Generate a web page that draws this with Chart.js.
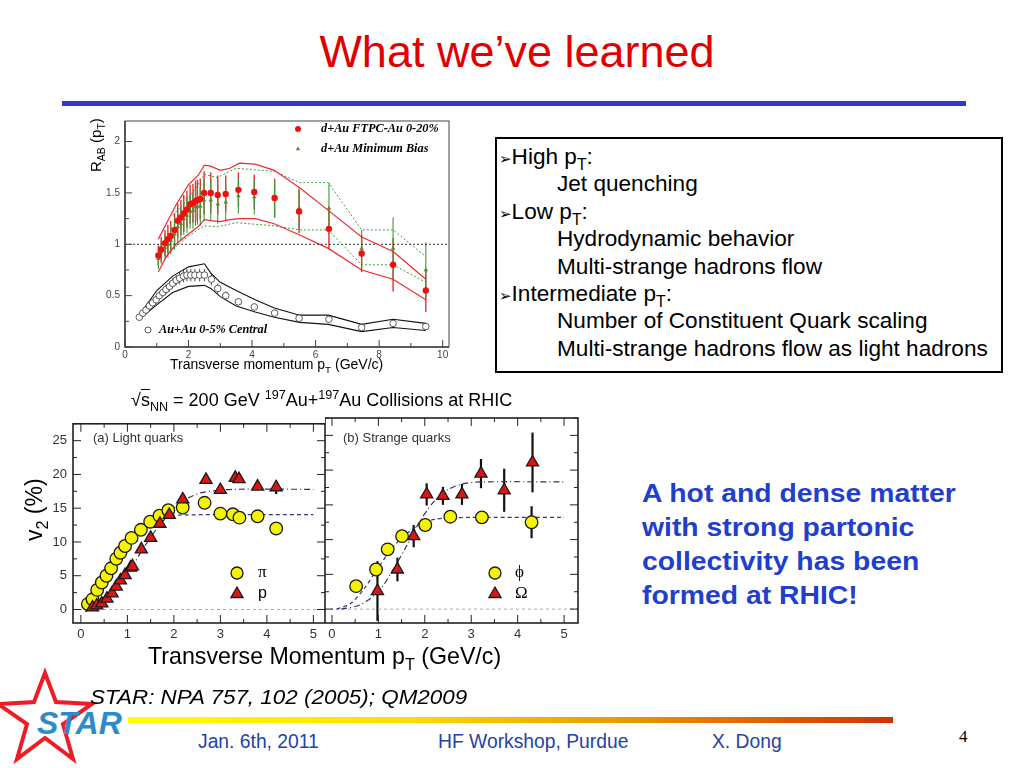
<!DOCTYPE html>
<html>
<head>
<meta charset="utf-8">
<title>What we've learned</title>
<script src="https://cdn.jsdelivr.net/npm/chart.js@4.4.1/dist/chart.umd.min.js"></script>
<style>
body { margin:0; background:#fff; }
#slide { position:relative; width:1024px; height:768px; overflow:hidden; font-family:"Liberation Sans", Arial, sans-serif; color:#000; }
.abs { position:absolute; white-space:nowrap; }
canvas { position:absolute; }
sub, sup { font-size:70%; line-height:0; }
#title { left:0; width:1034px; top:30px; text-align:center; font-size:45px; line-height:44px; color:#e00000; }
#rule { left:62px; top:101px; width:904px; height:5px; background:#3636c8; }
#box { left:495px; top:137px; width:504px; height:228px; border:2px solid #000; font-size:22.6px; padding-top:4px; box-sizing:content-box; }
#box div { white-space:nowrap; height:27.4px; line-height:27.4px; overflow:visible; }
#box .b { padding-left:2px; }
#box .b span.ar { font-family:"DejaVu Sans"; font-size:15px; line-height:0; }
#box .s { padding-left:60px; }
#msg { left:642px; top:476px; font-size:26px; line-height:34px; font-weight:bold; color:#1f3fcc; transform:scaleX(1.09); transform-origin:0 0; }
#ref { left:90px; top:686px; font-size:19.5px; font-style:italic; transform:scaleX(1.15); transform-origin:0 0; }
#bar { left:128px; top:717px; width:765px; height:6px; background:linear-gradient(to right, #ffff00 0%, #ffe000 35%, #e89000 68%, #cc3300 100%); }
.foot { top:731px; font-size:19.3px; color:#2442a8; }
#pg { left:959px; top:727px; font-family:"Liberation Serif", serif; font-size:17px; }
</style>
</head>
<body>
<div id="slide">
  <div id="title" class="abs">What we’ve learned</div>
  <div id="rule" class="abs"></div>

  <canvas id="rab" width="375" height="262" style="left:80px;top:110px"></canvas>
  <div class="abs" style="left:87px;top:172px;font-size:15px;transform:rotate(-90deg);transform-origin:0 0;">R<sub>AB</sub> (p<sub>T</sub>)</div>
  <div class="abs" style="left:170px;top:356px;font-size:14px;">Transverse momentum p<sub>T</sub> (GeV/c)</div>

  <div id="box" class="abs">
    <div class="b"><span class="ar">➢</span>High p<sub>T</sub>:</div>
    <div class="s">Jet quenching</div>
    <div class="b"><span class="ar">➢</span>Low p<sub>T</sub>:</div>
    <div class="s">Hydrodynamic behavior</div>
    <div class="s">Multi-strange hadrons flow</div>
    <div class="b"><span class="ar">➢</span>Intermediate p<sub>T</sub>:</div>
    <div class="s">Number of Constituent Quark scaling</div>
    <div class="s">Multi-strange hadrons flow as light hadrons</div>
  </div>

  <div class="abs" style="left:131px;top:390px;font-size:18px;">√<span style="text-decoration:overline">s</span><sub>NN</sub> = 200 GeV <sup>197</sup>Au+<sup>197</sup>Au Collisions at RHIC</div>
  <canvas id="v2a" width="285" height="235" style="left:40px;top:410px"></canvas>
  <canvas id="v2b" width="255" height="235" style="left:325px;top:410px"></canvas>
  <div class="abs" style="left:21px;top:541px;font-size:23px;transform:rotate(-90deg);transform-origin:0 0;">v<sub>2</sub> (%)</div>
  <div class="abs" style="left:148px;top:643px;font-size:23.2px;">Transverse Momentum p<sub>T</sub> (GeV/c)</div>

  <div id="msg" class="abs">A hot and dense matter<br>with strong partonic<br>collectivity has been<br>formed at RHIC!</div>

  <svg class="abs" style="left:0;top:660px" width="135" height="108">
    <polygon points="45,13 56,42 92,44 63,64 73,99 45,78 17,99 27,64 -2,44 34,42" fill="none" stroke="#ee1c24" stroke-width="4"/>
    <text x="37" y="74" font-family="Liberation Sans, Arial" font-weight="bold" font-style="italic" font-size="32" fill="#2e8bc9">STAR</text>
  </svg>
  <div id="ref" class="abs">STAR: NPA 757, 102 (2005); QM2009</div>
  <div id="bar" class="abs"></div>
  <div class="abs foot" style="left:198px;">Jan. 6th, 2011</div>
  <div class="abs foot" style="left:438px;">HF Workshop, Purdue</div>
  <div class="abs foot" style="left:712px;">X. Dong</div>
  <div id="pg" class="abs">4</div>
</div>

<script>
// ---- R_AB(pT) panel ----
var rabTicksX = [0, 2, 4, 6, 8, 10];
var rabTicksY = [0, 0.5, 1, 1.5, 2];

var dauX = [1.05,1.14,1.26,1.35,1.44,1.56,1.66,1.76,1.85,1.95,2.05,2.14,2.22,2.28,2.37,2.49,2.70,2.92,3.17,3.57,4.07,4.71,5.48,6.42,7.45,8.44,9.47];
var dauCentral = [0.89,0.95,1.01,1.05,1.08,1.14,1.23,1.26,1.30,1.34,1.39,1.40,1.42,1.43,1.44,1.50,1.50,1.48,1.49,1.53,1.51,1.45,1.32,1.15,0.91,0.80,0.55];
var dauCentralErr = [0.10,0.12,0.13,0.14,0.15,0.16,0.17,0.17,0.18,0.18,0.19,0.19,0.20,0.20,0.20,0.21,0.20,0.19,0.18,0.17,0.17,0.19,0.21,0.20,0.18,0.26,0.21];
var dauMinBias = [0.86,0.92,0.97,1.00,1.04,1.10,1.17,1.20,1.25,1.28,1.32,1.33,1.36,1.37,1.37,1.43,1.43,1.39,1.41,1.47,1.46,1.44,1.35,1.35,0.96,0.96,0.75];
var dauMinBiasErr = [0.10,0.11,0.12,0.13,0.14,0.15,0.15,0.16,0.16,0.17,0.17,0.18,0.18,0.18,0.19,0.20,0.20,0.19,0.18,0.17,0.17,0.18,0.20,0.25,0.18,0.30,0.27];

var centBandX = [1.05,1.3,1.6,2.0,2.3,2.5,2.7,3.0,3.3,3.6,4.1,4.7,5.5,6.4,7.45,8.44,9.47];
var centBandHi = [1.05,1.20,1.38,1.58,1.67,1.77,1.76,1.72,1.74,1.79,1.78,1.72,1.55,1.33,1.07,0.93,0.66];
var centBandLo = [0.73,0.88,1.00,1.10,1.17,1.24,1.23,1.22,1.24,1.25,1.25,1.20,1.09,0.96,0.75,0.66,0.46];

var mbBandX = [1.5,2.0,2.3,2.5,2.9,3.5,4.7,5.5,6.4,7.45,8.44,9.47];
var mbBandHi = [1.28,1.45,1.58,1.68,1.65,1.74,1.71,1.60,1.60,1.14,1.14,0.88];
var mbBandLo = [0.95,1.08,1.14,1.18,1.17,1.21,1.18,1.14,1.14,0.80,0.80,0.63];

var auX = [0.45,0.56,0.66,0.77,0.87,0.98,1.08,1.19,1.29,1.40,1.50,1.61,1.72,1.84,1.95,2.07,2.20,2.35,2.50,2.72,2.92,3.17,3.57,4.07,4.71,5.48,6.42,7.45,8.44,9.47];
var auCentral = [0.29,0.33,0.36,0.40,0.43,0.46,0.50,0.53,0.56,0.59,0.62,0.65,0.67,0.69,0.70,0.70,0.70,0.70,0.70,0.66,0.57,0.50,0.44,0.39,0.33,0.28,0.27,0.19,0.23,0.20];
var auCentralErr = [0.02,0.02,0.03,0.03,0.03,0.04,0.04,0.04,0.05,0.05,0.05,0.05,0.06,0.06,0.06,0.06,0.06,0.06,0.06,0.06,0.05,0.04,0.03,0.03,0.02,0.02,0.02,0.02,0.03,0.03];

var auBandX = [0.45,1.0,1.5,2.0,2.5,2.7,3.0,3.5,4.1,4.7,5.5,6.4,7.45,8.44,9.47];
var auBandHi = [0.31,0.55,0.69,0.78,0.81,0.72,0.63,0.55,0.46,0.38,0.31,0.31,0.22,0.27,0.23];
var auBandLo = [0.27,0.41,0.53,0.59,0.60,0.57,0.49,0.40,0.34,0.29,0.24,0.22,0.15,0.19,0.16];

var unityX = [0, 10.2];
var unityY = [1, 1];

// ---- v2 panels ----
var v2TicksX = [0, 1, 2, 3, 4, 5];
var v2TicksY = [0, 5, 10, 15, 20, 25];

var piX = [0.15,0.25,0.35,0.45,0.55,0.65,0.76,0.85,0.95,1.09,1.29,1.49,1.69,1.88,2.19,2.66,3.00,3.27,3.41,3.80,4.20];
var piV2 = [0.8,1.5,2.9,4.0,5.0,6.1,7.5,8.4,9.4,10.6,11.8,13.0,13.9,14.7,15.1,15.8,14.2,14.1,13.6,13.8,12.0];
var piErr = [0.1,0.1,0.1,0.1,0.1,0.1,0.1,0.1,0.1,0.1,0.1,0.1,0.2,0.2,0.2,0.3,0.3,0.3,0.3,0.4,0.8];
var protX = [0.25,0.34,0.45,0.56,0.67,0.76,0.85,0.95,1.07,1.11,1.30,1.50,1.70,1.90,2.19,2.69,3.00,3.32,3.40,3.80,4.20];
var protV2 = [0.3,0.6,0.9,1.6,2.4,3.4,4.3,5.1,6.2,6.4,8.9,10.6,12.7,14.0,16.3,19.2,17.7,19.5,19.3,18.2,18.1];
var protErr = [0.1,0.1,0.1,0.1,0.1,0.1,0.1,0.2,0.2,0.2,0.2,0.2,0.2,0.3,0.3,0.4,0.4,0.4,0.4,0.5,1.0];

var piFitX = [0.1,0.3,0.5,0.7,0.9,1.1,1.3,1.5,1.7,1.9,2.2,3.0,5.0];
var piFitY = [-0.3,1.8,4.2,6.5,8.7,10.5,12.0,13.0,13.6,13.9,14.0,14.05,14.05];
var protFitX = [0.1,0.3,0.5,0.7,0.9,1.1,1.3,1.5,1.7,1.9,2.1,2.3,2.6,2.9,3.3,5.0];
var protFitY = [-0.3,0.2,1.0,2.5,4.3,6.3,8.6,10.7,12.6,14.3,15.6,16.5,17.3,17.6,17.8,17.8];

var phiX = [0.52,0.95,1.20,1.51,2.01,2.55,3.23,4.30];
var phiV2 = [3.3,5.7,8.6,10.5,12.1,13.3,13.2,12.5];
var phiErr = [0.3,0.4,0.3,0.4,0.5,0.5,0.8,2.3];
var omegaX = [0.98,1.41,1.76,2.04,2.39,2.80,3.21,3.71,4.32];
var omegaV2 = [2.6,5.7,10.5,16.5,16.3,16.5,19.5,17.1,21.1];
var omegaErr = [4.3,1.7,1.6,1.6,1.3,1.5,2.1,3.1,4.3];

var phiFitX = [0.1,0.4,0.7,1.0,1.3,1.6,1.9,2.2,2.5,3.0,5.0];
var phiFitY = [0.0,0.8,3.0,6.0,8.8,10.8,12.2,12.9,13.1,13.2,13.2];
var omegaFitX = [0.2,0.6,1.0,1.3,1.6,1.9,2.2,2.5,2.8,3.2,5.0];
var omegaFitY = [0.0,0.6,2.5,5.5,9.0,12.7,15.5,17.2,18.0,18.3,18.3];

var zeroX = [-0.3, 5.4];
var zeroY = [0, 0];

Chart.defaults.font.family = '"Liberation Sans", Arial, sans-serif';

function pts(xs, ys) {
  return xs.map(function(x, i) { return {x: x, y: ys[i]}; });
}

// inward ticks and box frame, ROOT style
var framePlugin = {
  id: 'frame',
  afterDraw: function(chart, args, o) {
    var ctx = chart.ctx, a = chart.chartArea;
    var xs = chart.scales.x, ys = chart.scales.y;
    ctx.save();
    ctx.strokeStyle = o.color;
    ctx.lineWidth = o.width;
    ctx.strokeRect(a.left, a.top, a.right - a.left, a.bottom - a.top);
    ctx.lineWidth = o.tickWidth;
    function marks(major, scale, fn) {
      var step = major[1] - major[0];
      for (var v = major[0] - step; v <= scale.max + 1e-9; v += step / 2) {
        if (v < scale.min - 1e-9) continue;
        var isMajor = Math.abs(Math.round((v - major[0]) / step) * step - (v - major[0])) < 1e-6;
        fn(scale.getPixelForValue(v), isMajor ? o.major : o.minor);
      }
    }
    ctx.beginPath();
    marks(o.xMajor, xs, function(p, len) {
      if (o.sides.bottom) { ctx.moveTo(p, a.bottom); ctx.lineTo(p, a.bottom - len); }
      if (o.sides.top) { ctx.moveTo(p, a.top); ctx.lineTo(p, a.top + len); }
    });
    marks(o.yMajor, ys, function(p, len) {
      if (o.sides.left) { ctx.moveTo(a.left, p); ctx.lineTo(a.left + len, p); }
      if (o.sides.right) { ctx.moveTo(a.right, p); ctx.lineTo(a.right - len, p); }
    });
    ctx.stroke();
    if (o.axisWidth) {
      ctx.lineWidth = o.axisWidth;
      ctx.beginPath();
      ctx.moveTo(a.left, a.top); ctx.lineTo(a.left, a.bottom); ctx.lineTo(a.right, a.bottom);
      ctx.stroke();
    }
    ctx.restore();
  }
};

// vertical error bars read from dataset.errorBars
var errorPlugin = {
  id: 'errbars',
  beforeDatasetsDraw: function(chart) {
    var ctx = chart.ctx, xs = chart.scales.x, ys = chart.scales.y, a = chart.chartArea;
    ctx.save();
    ctx.beginPath();
    ctx.rect(a.left, a.top, a.right - a.left, a.bottom - a.top);
    ctx.clip();
    chart.data.datasets.forEach(function(ds) {
      if (!ds.errorBars) return;
      ctx.strokeStyle = ds.errorColor;
      ctx.lineWidth = ds.errorWidth;
      ds.data.forEach(function(p, j) {
        var e = ds.errorBars[j];
        if (!e) return;
        var x = xs.getPixelForValue(p.x);
        ctx.beginPath();
        ctx.moveTo(x, ys.getPixelForValue(p.y - e));
        ctx.lineTo(x, ys.getPixelForValue(p.y + e));
        ctx.stroke();
      });
    });
    ctx.restore();
  }
};

// in-frame keys (marker + label)
var keyPlugin = {
  id: 'keys',
  afterDraw: function(chart, args, o) {
    var ctx = chart.ctx;
    (o.items || []).forEach(function(it) {
      ctx.save();
      if (it.style) {
        ctx.fillStyle = it.fill;
        ctx.strokeStyle = it.stroke;
        ctx.lineWidth = it.borderWidth;
        Chart.helpers.drawPoint(ctx, {pointStyle: it.style, radius: it.radius, borderWidth: it.borderWidth, rotation: 0}, it.x, it.y);
      }
      ctx.font = it.font;
      ctx.fillStyle = it.color || '#000';
      ctx.textBaseline = 'middle';
      ctx.fillText(it.text, it.tx, it.y);
      ctx.restore();
    });
  }
};

function fixedTicks(list) {
  return function(s) { s.ticks = list.map(function(v) { return {value: v}; }); };
}
function plainLabel(v) { return String(v); }
// fixed axis band height, no extra side padding for edge labels
function xBand(h) {
  return function(s) { s.height = h; s.paddingLeft = 0; s.paddingRight = 0; };
}

var keyFont = 'bold italic 12.3px "Liberation Serif"';

// R_AB chart
new Chart(document.getElementById('rab'), {
  type: 'scatter',
  data: {
    datasets: [
      { data: pts(dauX, dauCentral), pointStyle: 'circle', pointRadius: 3.2, backgroundColor: '#f01010', borderColor: '#f01010', borderWidth: 0,
        errorBars: dauCentralErr, errorColor: '#e03030', errorWidth: 1.4, order: 0 },
      { data: pts(dauX, dauMinBias), pointStyle: 'triangle', pointRadius: 2.6, backgroundColor: '#5a8a30', borderColor: '#5a8a30', borderWidth: 0,
        errorBars: dauMinBiasErr, errorColor: '#3a9a3a', errorWidth: 1.1, order: 1 },
      { data: pts(auX, auCentral), pointStyle: 'circle', pointRadius: 3.3, backgroundColor: '#fff', borderColor: '#333', borderWidth: 0.8,
        errorBars: auCentralErr, errorColor: '#222', errorWidth: 0.8, order: 0 },
      { data: pts(centBandX, centBandHi), showLine: true, pointRadius: 0, borderColor: '#ee2a2a', borderWidth: 1.2, order: 3 },
      { data: pts(centBandX, centBandLo), showLine: true, pointRadius: 0, borderColor: '#ee2a2a', borderWidth: 1.2, order: 3 },
      { data: pts(mbBandX, mbBandHi), showLine: true, pointRadius: 0, borderColor: '#3aa03a', borderWidth: 1, borderDash: [2, 2], order: 4 },
      { data: pts(mbBandX, mbBandLo), showLine: true, pointRadius: 0, borderColor: '#3aa03a', borderWidth: 1, borderDash: [2, 2], order: 4 },
      { data: pts(auBandX, auBandHi), showLine: true, pointRadius: 0, borderColor: '#111', borderWidth: 1.1, order: 3 },
      { data: pts(auBandX, auBandLo), showLine: true, pointRadius: 0, borderColor: '#111', borderWidth: 1.1, order: 3 },
      { data: pts(unityX, unityY), showLine: true, pointRadius: 0, borderColor: '#333', borderWidth: 1, borderDash: [2, 2], order: 5 }
    ]
  },
  options: {
    responsive: false, animation: false, events: [],
    layout: { autoPadding: false, padding: { left: 0, right: 6, top: 4, bottom: 0 } },
    plugins: {
      legend: { display: false }, tooltip: { enabled: false },
      frame: { color: '#444', width: 1, tickWidth: 1, axisWidth: 1.6, major: 7, minor: 4,
               xMajor: rabTicksX, yMajor: rabTicksY, sides: { left: true, bottom: true } },
      keys: { items: [
        { style: 'circle', radius: 3, fill: '#f01010', stroke: '#f01010', borderWidth: 0, x: 218, y: 19, tx: 241, text: 'd+Au FTPC-Au 0-20%', font: keyFont },
        { style: 'triangle', radius: 2.6, fill: '#5a8a30', stroke: '#5a8a30', borderWidth: 0, x: 218, y: 39, tx: 241, text: 'd+Au Minimum Bias', font: keyFont },
        { style: 'circle', radius: 3, fill: '#fff', stroke: '#333', borderWidth: 0.8, x: 68, y: 220, tx: 79, text: 'Au+Au 0-5% Central', font: keyFont }
      ] }
    },
    scales: {
      x: { type: 'linear', min: 0, max: 10.2, afterBuildTicks: fixedTicks(rabTicksX), afterFit: xBand(25),
           grid: { display: false, drawTicks: false }, border: { display: false },
           ticks: { font: { size: 10 }, color: '#444', padding: 2, maxRotation: 0, callback: plainLabel } },
      y: { type: 'linear', min: 0, max: 2.2, afterBuildTicks: fixedTicks(rabTicksY), afterFit: function(s) { s.width = 45; },
           grid: { display: false, drawTicks: false }, border: { display: false },
           ticks: { font: { size: 10 }, color: '#444', padding: 5, callback: plainLabel } }
    }
  },
  plugins: [errorPlugin, framePlugin, keyPlugin]
});

// v2 panels
function v2Panel(id, markers, fits, keys, yWidth, pad, xmin, xmax) {
  var ds = [];
  markers.forEach(function(m) {
    ds.push({ data: m.data, pointStyle: m.style, pointRadius: m.radius, backgroundColor: m.fill, borderColor: '#1a1a1a', borderWidth: 1.3,
              errorBars: m.err, errorColor: '#111', errorWidth: 2.2, order: 0 });
  });
  fits.forEach(function(f) {
    ds.push({ data: f.data, showLine: true, pointRadius: 0, borderColor: f.color, borderWidth: 1.2, borderDash: f.dash, tension: 0.3, order: 2 });
  });
  ds.push({ data: pts(zeroX, zeroY), showLine: true, pointRadius: 0, borderColor: '#aaa', borderWidth: 1, borderDash: [3, 3], order: 3 });
  return new Chart(document.getElementById(id), {
    type: 'scatter',
    data: { datasets: ds },
    options: {
      responsive: false, animation: false, events: [],
      layout: { autoPadding: false, padding: pad },
      plugins: {
        legend: { display: false }, tooltip: { enabled: false },
        frame: { color: '#222', width: 1.6, tickWidth: 1, major: 8, minor: 4,
                 xMajor: v2TicksX, yMajor: v2TicksY, sides: { left: true, right: true, bottom: true, top: true } },
        keys: { items: keys }
      },
      scales: {
        x: { type: 'linear', min: xmin, max: xmax, afterBuildTicks: fixedTicks(v2TicksX), afterFit: xBand(22),
             grid: { display: false, drawTicks: false }, border: { display: false },
             ticks: { font: { size: 13 }, color: '#333', padding: 4, maxRotation: 0, callback: plainLabel } },
        y: { type: 'linear', display: yWidth > 0, min: -2, max: 27.5, afterBuildTicks: fixedTicks(v2TicksY), afterFit: function(s) { s.width = yWidth; },
             grid: { display: false, drawTicks: false }, border: { display: false },
             ticks: { font: { size: 13 }, color: '#333', padding: 6, callback: plainLabel } }
      }
    },
    plugins: [errorPlugin, framePlugin, keyPlugin]
  });
}

v2Panel('v2a',
  [ { data: pts(protX, protV2), err: protErr, style: 'triangle', radius: 7, fill: '#dd1414' },
    { data: pts(piX, piV2), err: piErr, style: 'circle', radius: 6.3, fill: '#f4f400' } ],
  [ { data: pts(piFitX, piFitY), color: '#33338a', dash: [4, 3] },
    { data: pts(protFitX, protFitY), color: '#333355', dash: [6, 3, 1, 3] } ],
  [ { text: '(a) Light quarks', tx: 53, y: 28, font: '13px "Liberation Sans"', color: '#333' },
    { style: 'circle', radius: 6, fill: '#f4f400', stroke: '#1a1a1a', borderWidth: 1.3, x: 197, y: 163, tx: 218, text: 'π', font: '17px "Liberation Serif"' },
    { style: 'triangle', radius: 7, fill: '#dd1414', stroke: '#1a1a1a', borderWidth: 1.3, x: 197, y: 184, tx: 218, text: 'p', font: '16px "Liberation Sans"' } ],
  33, { left: 0, right: 0, top: 8, bottom: 0 }, -0.17, 5.25);

v2Panel('v2b',
  [ { data: pts(omegaX, omegaV2), err: omegaErr, style: 'triangle', radius: 7, fill: '#dd1414' },
    { data: pts(phiX, phiV2), err: phiErr, style: 'circle', radius: 6.3, fill: '#f4f400' } ],
  [ { data: pts(phiFitX, phiFitY), color: '#33338a', dash: [4, 3] },
    { data: pts(omegaFitX, omegaFitY), color: '#333355', dash: [6, 3, 1, 3] } ],
  [ { text: '(b) Strange quarks', tx: 18, y: 28, font: '13px "Liberation Sans"', color: '#333' },
    { style: 'circle', radius: 6, fill: '#f4f400', stroke: '#1a1a1a', borderWidth: 1.3, x: 170, y: 163, tx: 190, text: 'ϕ', font: '17px "Liberation Serif"' },
    { style: 'triangle', radius: 7, fill: '#dd1414', stroke: '#1a1a1a', borderWidth: 1.3, x: 170, y: 184, tx: 190, text: 'Ω', font: '17px "Liberation Serif"' } ],
  0, { left: 0, right: 2, top: 8, bottom: 0 }, -0.15, 5.3);
</script>
</body>
</html>
